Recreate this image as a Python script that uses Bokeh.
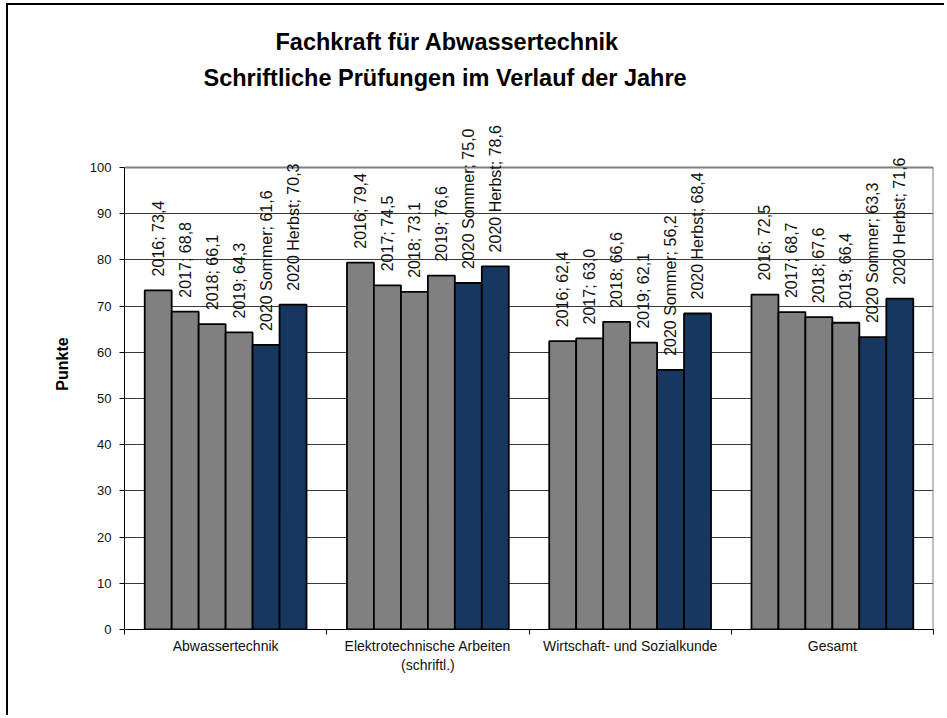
import math
from bokeh.plotting import figure
from bokeh.models import ColumnDataSource, FixedTicker, Range1d, Title, LabelSet
from bokeh.core.properties import value
from bokeh.embed import file_html
from bokeh.resources import INLINE

categories = ["Abwassertechnik", "Elektrotechnische Arbeiten\n(schriftl.)",
              "Wirtschaft- und Sozialkunde", "Gesamt"]
series = ["2016", "2017", "2018", "2019", "2020 Sommer", "2020 Herbst"]
v2016 = [73.4, 79.4, 62.4, 72.5]
v2017 = [68.8, 74.5, 63.0, 68.7]
v2018 = [66.1, 73.1, 66.6, 67.6]
v2019 = [64.3, 76.6, 62.1, 66.4]
v2020s = [61.6, 75.0, 56.2, 63.3]
v2020h = [70.3, 78.6, 68.4, 71.6]
series_values = [v2016, v2017, v2018, v2019, v2020s, v2020h]
colors = ["#808080", "#808080", "#808080", "#808080", "#17375E", "#17375E"]
y_ticks = [0, 10, 20, 30, 40, 50, 60, 70, 80, 90, 100]
title_lines = ["Fachkraft für Abwassertechnik",
               "Schriftliche Prüfungen im Verlauf der Jahre"]

FONT = "Liberation Sans"
Y_MAX = 100
# the frame reaches above 100 so that the rotated labels are not clipped
FRAME_H = 531        # pixels of the frame
PLOT_H = 462         # pixels covering 0..100
y_end = Y_MAX * FRAME_H / PLOT_H

p = figure(width=938, height=712, output_backend="svg", toolbar_location=None,
           x_range=Range1d(0, len(categories)), y_range=Range1d(0, y_end),
           min_border_left=116, min_border_right=13, min_border_top=93,
           min_border_bottom=88)
p.styles = {"margin-left": "6px", "margin-top": "3px",
            "border-left": "2px solid black", "border-top": "2px solid black"}

n = len(series)
group_frac = 0.8
bw = group_frac / n
xs, tops, cols, labels = [], [], [], []
for j, (s, vals) in enumerate(zip(series, series_values)):
    for i, v in enumerate(vals):
        xs.append(i + (1 - group_frac) / 2 + (j + 0.5) * bw)
        tops.append(v)
        cols.append(colors[j])
        labels.append(f"{s}; {v:.1f}".replace(".", ","))

src = ColumnDataSource(dict(x=xs, top=tops, color=cols, label=labels))

# plot-area border (gray) at 100 and at the right edge
ncat = len(categories)
p.segment(x0=[0, ncat], y0=[Y_MAX, 0], x1=[ncat, ncat], y1=[Y_MAX, Y_MAX],
          line_color="#808080", line_width=2)

p.vbar(x="x", top="top", width=bw, bottom=0, source=src, fill_color="color",
       line_color="black", line_width=1.8)
ls = LabelSet(x="x", y="top", text="label", source=src, angle=math.pi / 2,
              text_align="left", text_baseline="middle", y_offset=14,
              text_font=value(FONT), text_font_size="16px", text_color="#111111")
p.add_layout(ls)

# title (two lines)
t2 = Title(text=title_lines[1], align="left", text_font=FONT,
           text_font_size="23.5px", text_font_style="bold", text_color="black",
           text_line_height=0.85, standoff=16, offset=79)
t1 = Title(text=title_lines[0], align="left", text_font=FONT,
           text_font_size="23.5px", text_font_style="bold", text_color="black",
           standoff=0, offset=151)
p.add_layout(t2, "above")
p.add_layout(t1, "above")

# axes
p.xaxis.ticker = FixedTicker(ticks=[i + 0.5 for i in range(ncat)],
                             minor_ticks=list(range(ncat + 1)))
p.xaxis.major_label_overrides = {i + 0.5: c for i, c in enumerate(categories)}
p.xaxis.major_tick_out = 0
p.xaxis.major_tick_in = 0
p.xaxis.minor_tick_out = 5
p.xaxis.minor_tick_in = 0
p.xaxis.minor_tick_line_color = "black"
p.xaxis.axis_line_color = "black"
p.xaxis.major_label_text_font = FONT
p.xaxis.major_label_text_font_size = "14px"
p.xaxis.major_label_text_color = "#111111"
p.xaxis.major_label_standoff = 3

p.yaxis.ticker = FixedTicker(ticks=y_ticks)
p.yaxis.bounds = (0, Y_MAX)
p.yaxis.major_tick_out = 5
p.yaxis.major_tick_in = 0
p.yaxis.minor_tick_line_color = None
p.yaxis.axis_line_color = "black"
p.yaxis.major_tick_line_color = "black"
p.yaxis.major_label_text_font = FONT
p.yaxis.major_label_text_font_size = "13px"
p.yaxis.major_label_text_color = "#111111"
p.yaxis.major_label_standoff = 8
p.yaxis.axis_label = "Punkte"
p.yaxis.axis_label_text_font = FONT
p.yaxis.axis_label_text_font_size = "16px"
p.yaxis.axis_label_text_font_style = "bold"
p.yaxis.axis_label_text_color = "black"
p.yaxis.axis_label_standoff = 16

p.xgrid.grid_line_color = None
p.ygrid.ticker = FixedTicker(ticks=y_ticks[1:-1])
p.ygrid.grid_line_color = "#3a3a3a"
p.ygrid.grid_line_width = 1

p.outline_line_color = None
p.background_fill_color = "white"
p.border_fill_color = "white"

open("out.html", "w").write(file_html(p, INLINE))
